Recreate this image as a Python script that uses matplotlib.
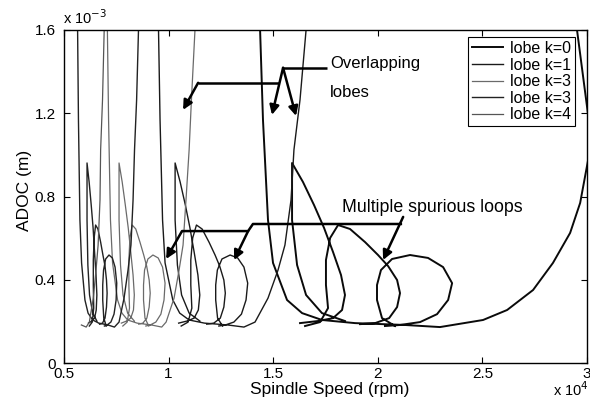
import numpy as np
import matplotlib.pyplot as plt

plt.rcParams['font.family'] = ['Liberation Sans', 'DejaVu Sans']

# spindle speed in 1e4 rpm, ADOC in 1e-3 m
# every lobe = main U branch, cusp spike, inner loop, outer loop

k0_main = [(1.434, 1.70), (1.451, 1.168), (1.475, 0.687), (1.499, 0.481), (1.566, 0.303),
           (1.638, 0.240), (1.733, 0.207), (1.891, 0.192), (2.130, 0.183), (2.297, 0.173),
           (2.503, 0.207), (2.618, 0.255), (2.742, 0.351), (2.837, 0.481), (2.919, 0.625),
           (2.967, 0.769), (3.005, 0.975), (3.024, 1.072)]
k0_edge = [(2.945, 1.70), (2.952, 1.600), (3.005, 1.192), (3.024, 1.288)]
k0_cusp = [(1.843, 0.202), (1.733, 0.240), (1.657, 0.327), (1.614, 0.471), (1.590, 0.687),
           (1.590, 0.961), (1.642, 0.870), (1.695, 0.759), (1.743, 0.649), (1.786, 0.533),
           (1.824, 0.423), (1.843, 0.327), (1.829, 0.255), (1.786, 0.216), (1.714, 0.202),
           (1.628, 0.192)]
k0_loop_a = [(1.652, 0.178), (1.724, 0.197), (1.762, 0.264), (1.752, 0.375), (1.752, 0.495),
             (1.772, 0.601), (1.810, 0.663), (1.867, 0.644), (1.939, 0.581), (2.001, 0.519),
             (2.049, 0.466), (2.092, 0.399), (2.106, 0.336), (2.092, 0.269), (2.054, 0.216),
             (1.987, 0.192), (1.915, 0.187)]
k0_loop_b = [(2.082, 0.178), (2.020, 0.216), (1.996, 0.303), (1.996, 0.375), (2.015, 0.447),
             (2.068, 0.500), (2.154, 0.519), (2.240, 0.505), (2.312, 0.461), (2.355, 0.384),
             (2.336, 0.303), (2.283, 0.235), (2.202, 0.197), (2.106, 0.183), (2.034, 0.178)]

k1_main = [(0.950, 1.70), (0.959, 1.168), (0.971, 0.687), (0.983, 0.481), (1.020, 0.303),
           (1.053, 0.240), (1.098, 0.207), (1.171, 0.192), (1.283, 0.183), (1.360, 0.173),
           (1.413, 0.197), (1.475, 0.312), (1.523, 0.447), (1.556, 0.567), (1.585, 0.783),
           (1.599, 1.024), (1.628, 1.264), (1.657, 1.600), (1.665, 1.70)]
k1_cusp = [(1.149, 0.202), (1.098, 0.240), (1.062, 0.327), (1.042, 0.471), (1.031, 0.687),
           (1.031, 0.961), (1.055, 0.870), (1.080, 0.759), (1.102, 0.649), (1.122, 0.533),
           (1.140, 0.423), (1.149, 0.327), (1.142, 0.255), (1.122, 0.216), (1.088, 0.202),
           (1.048, 0.192)]
k1_loop_a = [(1.060, 0.178), (1.093, 0.197), (1.111, 0.264), (1.106, 0.375), (1.106, 0.495),
             (1.115, 0.601), (1.133, 0.663), (1.160, 0.644), (1.193, 0.581), (1.222, 0.519),
             (1.244, 0.466), (1.264, 0.399), (1.271, 0.336), (1.264, 0.269), (1.247, 0.216),
             (1.216, 0.192), (1.182, 0.187)]
k1_loop_b = [(1.258, 0.178), (1.234, 0.216), (1.225, 0.303), (1.225, 0.375), (1.233, 0.447),
             (1.255, 0.500), (1.294, 0.519), (1.330, 0.505), (1.360, 0.461), (1.378, 0.384),
             (1.370, 0.303), (1.348, 0.235), (1.312, 0.197), (1.271, 0.183), (1.240, 0.178)]

k2_main = [(0.706, 1.70), (0.713, 1.168), (0.722, 0.687), (0.732, 0.481), (0.756, 0.303),
           (0.777, 0.240), (0.804, 0.207), (0.849, 0.192), (0.918, 0.183), (0.967, 0.173),
           (0.988, 0.197), (1.026, 0.312), (1.050, 0.447), (1.069, 0.567), (1.083, 0.783),
           (1.098, 1.024), (1.109, 1.264), (1.126, 1.600), (1.130, 1.70)]
k2_cusp = [(0.836, 0.202), (0.804, 0.240), (0.782, 0.327), (0.770, 0.471), (0.763, 0.687),
           (0.763, 0.961), (0.778, 0.870), (0.793, 0.759), (0.807, 0.649), (0.819, 0.533),
           (0.830, 0.423), (0.836, 0.327), (0.832, 0.255), (0.819, 0.216), (0.799, 0.202),
           (0.774, 0.192)]
k2_loop_a = [(0.781, 0.178), (0.802, 0.197), (0.813, 0.264), (0.810, 0.375), (0.810, 0.495),
             (0.815, 0.601), (0.826, 0.663), (0.843, 0.644), (0.863, 0.581), (0.881, 0.519),
             (0.895, 0.466), (0.907, 0.399), (0.912, 0.336), (0.907, 0.269), (0.896, 0.216),
             (0.877, 0.192), (0.857, 0.187)]
k2_loop_b = [(0.905, 0.178), (0.887, 0.216), (0.880, 0.303), (0.880, 0.375), (0.885, 0.447),
             (0.901, 0.500), (0.925, 0.519), (0.950, 0.505), (0.971, 0.461), (0.983, 0.384),
             (0.978, 0.303), (0.963, 0.235), (0.939, 0.197), (0.912, 0.183), (0.891, 0.178)]

k3_main = [(0.564, 1.70), (0.569, 1.168), (0.576, 0.687), (0.584, 0.481), (0.600, 0.303),
           (0.615, 0.240), (0.637, 0.207), (0.666, 0.192), (0.710, 0.183), (0.741, 0.173),
           (0.763, 0.197), (0.787, 0.312), (0.806, 0.447), (0.820, 0.567), (0.830, 0.783),
           (0.837, 1.024), (0.847, 1.264), (0.856, 1.600), (0.858, 1.70)]
k3_cusp = [(0.657, 0.202), (0.637, 0.240), (0.622, 0.327), (0.614, 0.471), (0.610, 0.687),
           (0.610, 0.961), (0.620, 0.870), (0.630, 0.759), (0.639, 0.649), (0.646, 0.533),
           (0.653, 0.423), (0.657, 0.327), (0.654, 0.255), (0.646, 0.216), (0.633, 0.202),
           (0.617, 0.192)]
k3_loop_a = [(0.621, 0.178), (0.635, 0.197), (0.642, 0.264), (0.640, 0.375), (0.640, 0.495),
             (0.644, 0.601), (0.651, 0.663), (0.662, 0.644), (0.675, 0.581), (0.686, 0.519),
             (0.696, 0.466), (0.703, 0.399), (0.706, 0.336), (0.703, 0.269), (0.696, 0.216),
             (0.684, 0.192), (0.670, 0.187)]
k3_loop_b = [(0.702, 0.178), (0.690, 0.216), (0.685, 0.303), (0.685, 0.375), (0.689, 0.447),
             (0.699, 0.500), (0.715, 0.519), (0.731, 0.505), (0.744, 0.461), (0.752, 0.384),
             (0.749, 0.303), (0.739, 0.235), (0.724, 0.197), (0.706, 0.183), (0.693, 0.178)]

# only the rising branch of k=4 is inside the window
k4_main = [(0.583, 0.183), (0.606, 0.173), (0.621, 0.197), (0.640, 0.312), (0.653, 0.447),
           (0.663, 0.567), (0.672, 0.783), (0.675, 1.024), (0.684, 1.264), (0.692, 1.600),
           (0.694, 1.70)]

labels = ['lobe k=0', 'lobe k=1', 'lobe k=3', 'lobe k=3', 'lobe k=4']
lobes = [
    [k0_main, k0_edge, k0_cusp, k0_loop_a, k0_loop_b],
    [k1_main, k1_cusp, k1_loop_a, k1_loop_b],
    [k2_main, k2_cusp, k2_loop_a, k2_loop_b],
    [k3_main, k3_cusp, k3_loop_a, k3_loop_b],
    [k4_main],
]
colors = ['#0a0a0a', '#1a1a1a', '#6a6a6a', '#222222', '#555555']
widths = [1.4, 1.0, 0.9, 1.0, 0.9]

x_ticks = [0.5, 1, 1.5, 2, 2.5, 3]
x_ticklabels = ['0.5', '1', '1.5', '2', '2.5', '3']
y_ticks = [0, 0.4, 0.8, 1.2, 1.6]
y_ticklabels = ['0', '0.4', '0.8', '1.2', '1.6']


def join(segs):
    xs, ys = [], []
    for seg in segs:
        xs += [p[0] for p in seg] + [np.nan]
        ys += [p[1] for p in seg] + [np.nan]
    return xs, ys


fig = plt.figure(figsize=(5.9, 3.99), dpi=100)
ax = fig.add_axes([0.1085, 0.090, 0.8865, 0.835])

for segs, lab, c, lw in zip(lobes, labels, colors, widths):
    xs, ys = join(segs)
    ax.plot(xs, ys, color=c, lw=lw, label=lab)

ax.set_xlim(0.5, 3)
ax.set_ylim(0, 1.6)
ax.set_xticks(x_ticks)
ax.set_xticklabels(x_ticklabels)
ax.set_yticks(y_ticks)
ax.set_yticklabels(y_ticklabels)
ax.tick_params(direction='in', top=True, right=True, length=4, width=0.8,
               labelsize=11)
ax.tick_params(axis='x', pad=2.5)
ax.tick_params(axis='y', pad=6)
for sp in ax.spines.values():
    sp.set_linewidth(1.0)

fig.text(0.559, 0.025, 'Spindle Speed (rpm)', fontsize=12.5, ha='center', va='center')
fig.text(0.042, 0.522, 'ADOC (m)', fontsize=12.5, ha='center', va='center', rotation=90)
fig.text(0.107, 0.940, r'x 10$^{-3}$', fontsize=10.5)
fig.text(0.937, 0.008, r'x 10$^{4}$', fontsize=10.5)

leg = ax.legend(loc='upper right', bbox_to_anchor=(0.977, 0.979), fontsize=11.5,
                frameon=True, fancybox=False, edgecolor='k', framealpha=1,
                labelspacing=0.1, handlelength=1.9, handletextpad=0.45,
                borderpad=0.25, borderaxespad=0)
leg.get_frame().set_linewidth(0.8)

# annotations
ann = dict(color='k', lw=1.8, solid_capstyle='butt')
arw = dict(arrowstyle='-|>', color='k', lw=1.8, mutation_scale=14, shrinkA=0, shrinkB=0)

ax.plot([1.547, 1.757], [1.418, 1.418], **ann)
ax.annotate('', xy=(1.494, 1.192), xytext=(1.547, 1.418), arrowprops=arw)
ax.annotate('', xy=(1.609, 1.187), xytext=(1.547, 1.418), arrowprops=arw)
ax.plot([1.141, 1.528], [1.346, 1.346], **ann)
ax.annotate('', xy=(1.069, 1.216), xytext=(1.141, 1.346), arrowprops=arw)
ax.text(1.772, 1.416, 'Overlapping', fontsize=12, va='baseline')
ax.text(1.772, 1.278, 'lobes', fontsize=12, va='baseline')

ax.plot([1.064, 1.380, 1.403, 2.116], [0.634, 0.634, 0.668, 0.668], **ann)
ax.annotate('', xy=(0.988, 0.500), xytext=(1.064, 0.634), arrowprops=arw)
ax.annotate('', xy=(1.313, 0.495), xytext=(1.380, 0.634), arrowprops=arw)
ax.annotate('', xy=(2.025, 0.495), xytext=(2.121, 0.702), arrowprops=arw)
ax.text(1.828, 0.727, 'Multiple spurious loops', fontsize=12.8, va='baseline')

fig.savefig('out.png', dpi=100)
